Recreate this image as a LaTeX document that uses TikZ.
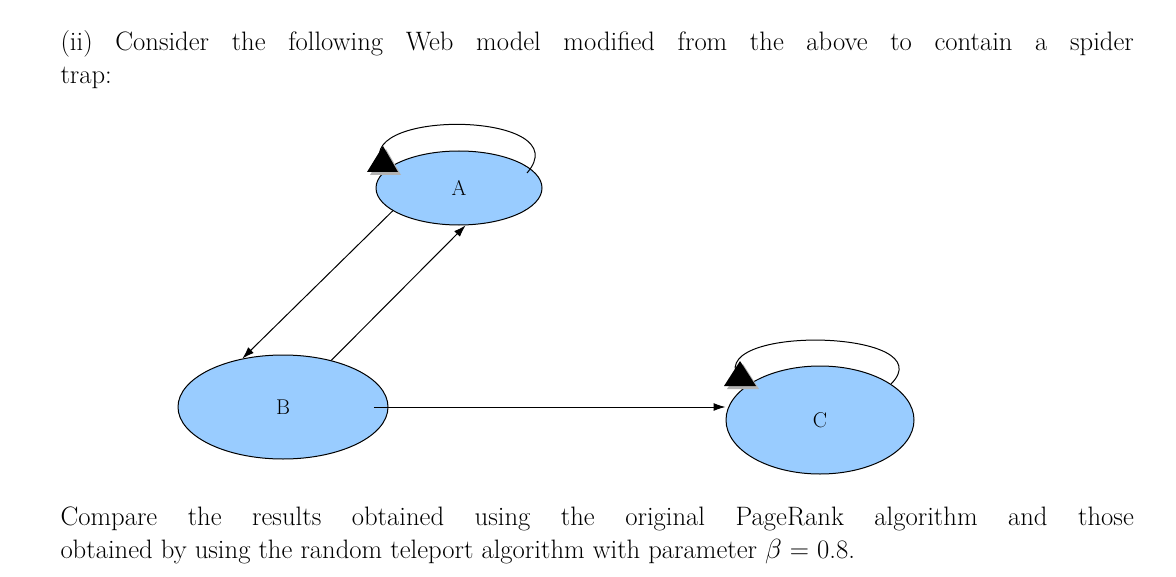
\documentclass[tikz,border=0pt]{standalone}
\usetikzlibrary{arrows.meta,shapes.geometric}
\definecolor{nodeblue}{RGB}{153,204,255}
\tikzset{every picture/.style={line width=0.75pt}}
\tikzset{
  page/.style={ellipse,draw,fill=nodeblue,inner sep=0pt,font=\fontsize{16}{19}\selectfont},
  link/.style={-{Latex[length=9pt,width=6pt]}},
  para/.style={anchor=north west,inner sep=0pt,text width=805pt,align=justify,font=\fontsize{20}{24.75}\selectfont}
}
\begin{document}
\begin{tikzpicture}[x=0.75pt,y=0.75pt,yscale=-1,xscale=1]
    \useasboundingbox (0,0) rectangle (1176,577);
    % Question text
    \node [para] (top) at (60,30) {\hangindent=30.75pt\hangafter=1 (ii) Consider the following Web model modified from the above to contain a spider\linebreak trap:};
    % Pages
    \node [page,minimum width=124.5pt,minimum height=55.5pt] (A) at (459,188) {A};
    \node [page,minimum width=157.5pt,minimum height=78pt] (B) at (283,407) {B};
    \node [page,minimum width=141pt,minimum height=81pt] (C) at (820,420) {C};
    % Connection
    \draw [link] (A.199) -- (B.130);
    % Connection
    \draw [link] (B.44) -- (A.280);
    % Connection
    \draw [link] ([xshift=-11pt]B.east) -- (B.east -| C.west);
    % Self loops
    \coordinate (a1) at (381,163);
    \coordinate (a2) at (527,173);
    \coordinate (c1) at (737,376);
    \coordinate (c2) at (891,384);
    \draw (a1) .. controls (358,108) and (580,112) .. (a2);
    \fill [gray!60] (386,149) -- (370,175) -- (401,175) -- cycle;
    \fill (383,146) -- (367,172) -- (398,172) -- cycle;
    \draw (c1) .. controls (712,324) and (945,330) .. (c2);
    \fill [gray!60] (743,364) -- (727,389) -- (759,389) -- cycle;
    \fill (740,361) -- (724,386) -- (756,386) -- cycle;
    % Question text
    \node [para] (bottom) at (60,506) {Compare the results obtained using the original PageRank algorithm and those\linebreak obtained by using the random teleport algorithm with parameter $\beta$ = 0.8.};
\end{tikzpicture}
\end{document}
